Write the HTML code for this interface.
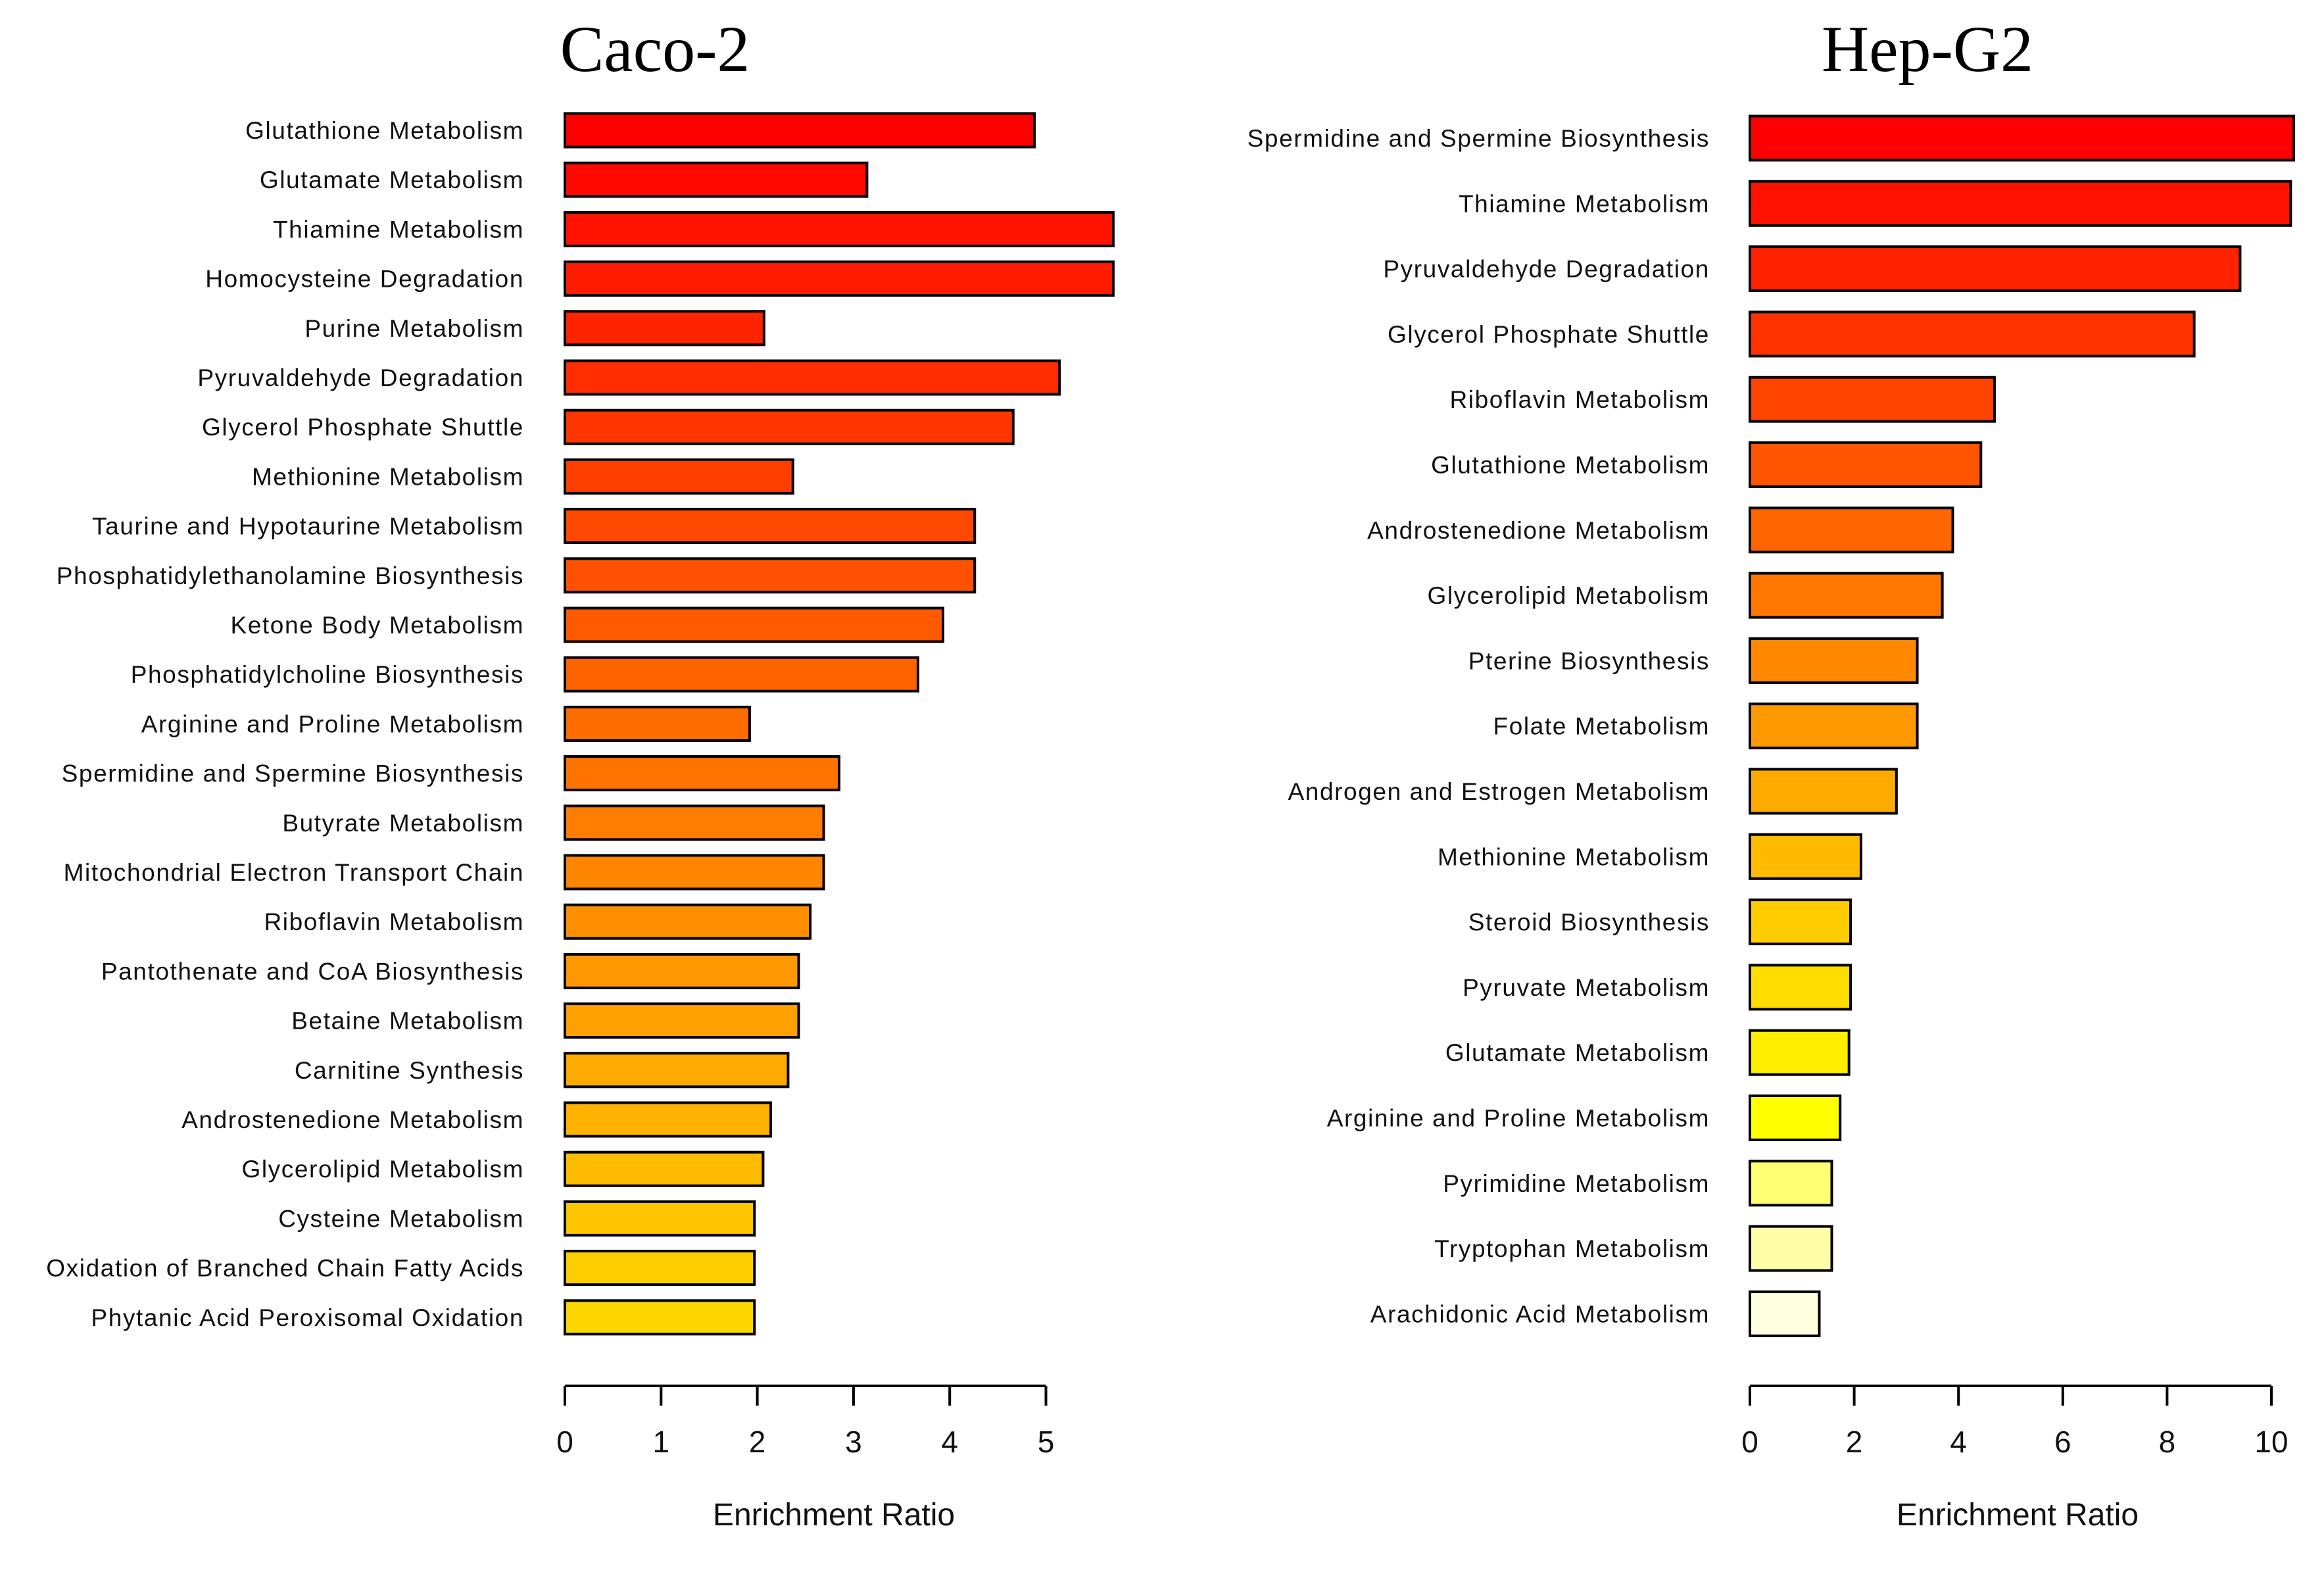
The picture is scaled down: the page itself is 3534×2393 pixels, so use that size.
<!DOCTYPE html>
<html><head><meta charset="utf-8">
<style>
html,body{margin:0;padding:0;background:#fff;}
svg{display:block;}
text{font-family:"Liberation Sans",sans-serif;fill:#111;}
.ttl{font-family:"Liberation Serif",serif;font-size:100px;fill:#000;}
</style></head>
<body>
<svg id="chart" width="3534" height="2393" viewBox="0 0 3534 2393" xmlns="http://www.w3.org/2000/svg">
<text class="ttl" x="996" y="108" text-anchor="middle">Caco-2</text>
<text class="ttl" x="2931" y="108" text-anchor="middle">Hep-G2</text>
</svg>
<script>
const cacoCategories = ["Glutathione Metabolism","Glutamate Metabolism","Thiamine Metabolism","Homocysteine Degradation","Purine Metabolism","Pyruvaldehyde Degradation","Glycerol Phosphate Shuttle","Methionine Metabolism","Taurine and Hypotaurine Metabolism","Phosphatidylethanolamine Biosynthesis","Ketone Body Metabolism","Phosphatidylcholine Biosynthesis","Arginine and Proline Metabolism","Spermidine and Spermine Biosynthesis","Butyrate Metabolism","Mitochondrial Electron Transport Chain","Riboflavin Metabolism","Pantothenate and CoA Biosynthesis","Betaine Metabolism","Carnitine Synthesis","Androstenedione Metabolism","Glycerolipid Metabolism","Cysteine Metabolism","Oxidation of Branched Chain Fatty Acids","Phytanic Acid Peroxisomal Oxidation"];
const cacoValues = [4.88,3.14,5.70,5.70,2.07,5.14,4.66,2.37,4.26,4.26,3.93,3.67,1.92,2.85,2.69,2.69,2.55,2.43,2.43,2.32,2.14,2.06,1.97,1.97,1.97];
const cacoTicks = [0,1,2,3,4,5];
const hepCategories = ["Spermidine and Spermine Biosynthesis","Thiamine Metabolism","Pyruvaldehyde Degradation","Glycerol Phosphate Shuttle","Riboflavin Metabolism","Glutathione Metabolism","Androstenedione Metabolism","Glycerolipid Metabolism","Pterine Biosynthesis","Folate Metabolism","Androgen and Estrogen Metabolism","Methionine Metabolism","Steroid Biosynthesis","Pyruvate Metabolism","Glutamate Metabolism","Arginine and Proline Metabolism","Pyrimidine Metabolism","Tryptophan Metabolism","Arachidonic Acid Metabolism"];
const hepValues = [10.43,10.37,9.40,8.52,4.69,4.43,3.89,3.69,3.21,3.21,2.81,2.13,1.93,1.93,1.90,1.73,1.57,1.57,1.33];
const hepTicks = [0,2,4,6,8,10];

const NS = "http://www.w3.org/2000/svg";
const svg = document.getElementById('chart');
function mk(tag, attrs){const e=document.createElementNS(NS,tag);for(const k in attrs)e.setAttribute(k,attrs[k]);svg.appendChild(e);return e;}
function hex(r,g,b){return '#'+[r,g,b].map(v=>Math.round(v).toString(16).padStart(2,'0')).join('');}

function cacoColor(i,n){return hex(255,215*i/(n-1),0);}
function hepColor(i,n){
  const yi=15;
  if(i<=yi) return hex(255,255*i/yi,0);
  const t=(i-yi)/(n-1-yi);
  return hex(255,255,60+164*t);
}

function drawPanel(cfg){
  const {cats,vals,ticks,x0,unit,firstY,pitch,barH,labelX,axisY,colorFn,prefix}=cfg;
  const xs=v=>x0+v*unit;
  const ys=i=>firstY+i*pitch;
  cats.forEach((c,i)=>{
    const r=mk('rect',{x:xs(0),y:ys(i)-barH/2,width:xs(vals[i])-xs(0),height:barH,fill:colorFn(i,cats.length),stroke:'#000','stroke-width':4});
    
    
    const t=mk('text',{x:labelX,y:ys(i)+13,'text-anchor':'end','font-size':37,'letter-spacing':1.6});
    t.textContent=c;
    
    
  });
  const ax=mk('line',{x1:xs(ticks[0]),x2:xs(ticks[ticks.length-1]),y1:axisY,y2:axisY,stroke:'#000','stroke-width':4});
  
  
  ticks.forEach(v=>{
    const tk=mk('line',{x1:xs(v),x2:xs(v),y1:axisY,y2:axisY+30,stroke:'#000','stroke-width':4});
    
    
    const tl=mk('text',{x:xs(v),y:axisY+101,'text-anchor':'middle','font-size':46});
    tl.textContent=String(v);
    
    
  });
  const at=mk('text',{x:cfg.titleX,y:axisY+212,'text-anchor':'middle','font-size':48});
  at.textContent='Enrichment Ratio';
  
  
}

drawPanel({cats:cacoCategories,vals:cacoValues,ticks:cacoTicks,x0:859,unit:146.3,firstY:198,pitch:75.2,barH:51,labelX:797,axisY:2107,colorFn:cacoColor,prefix:'caco2',titleX:1268});
drawPanel({cats:hepCategories,vals:hepValues,ticks:hepTicks,x0:2661,unit:79.3,firstY:210,pitch:99.3,barH:67,labelX:2600,axisY:2107,colorFn:hepColor,prefix:'hepg2',titleX:3068});
</script>
</body></html>
